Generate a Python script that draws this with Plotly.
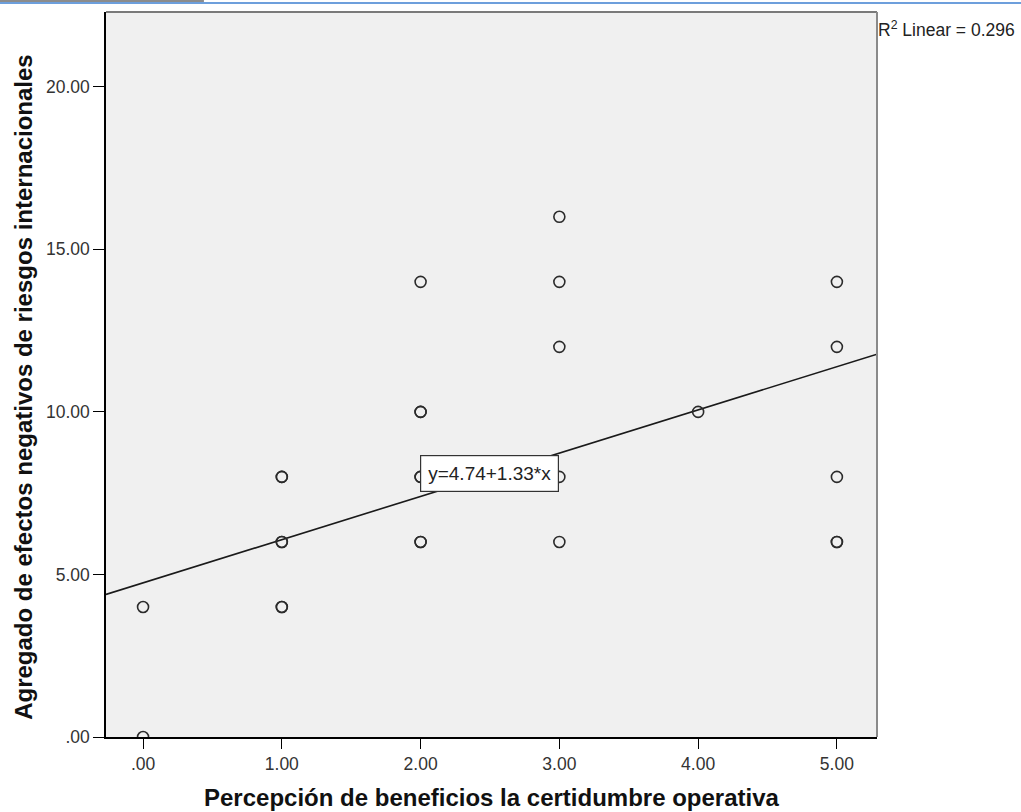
import plotly.graph_objs as go

# scatter data (duplicates drawn twice look bolder)
x_vals = [0, 0, 1, 1, 1, 1, 1, 1, 2, 2, 2, 2, 2, 2, 2, 3, 3, 3, 3, 3, 4, 5, 5, 5, 5, 5]
y_vals = [4, 0, 8, 8, 6, 6, 4, 4, 14, 10, 10, 8, 8, 6, 6, 16, 14, 12, 8, 6, 10, 14, 12, 8, 6, 6]

intercept = 4.74
slope = 1.33
r2 = 0.296

x_ticks = [0, 1, 2, 3, 4, 5]
x_ticklabels = ['.00', '1.00', '2.00', '3.00', '4.00', '5.00']
y_ticks = [0, 5, 10, 15, 20]
y_ticklabels = ['.00', '5.00', '10.00', '15.00', '20.00']

x_range = [-0.267, 5.289]
y_range = [0, 22.3]

font = 'Liberation Sans, Arial, sans-serif'

points = go.Scatter(
    x=x_vals, y=y_vals, mode='markers',
    marker=dict(symbol='circle-open', size=11, color='#2b2b2b',
                line=dict(width=1.6, color='#2b2b2b')),
    hoverinfo='x+y', showlegend=False)

fit = go.Scatter(
    x=x_range, y=[intercept + slope * v for v in x_range], mode='lines',
    line=dict(color='#1a1a1a', width=1.6),
    hoverinfo='skip', showlegend=False)

axis_style = dict(showgrid=False, zeroline=False, showline=True,
                  linecolor='black', linewidth=1.5,
                  ticks='outside', tickcolor='black',
                  tickfont=dict(size=17.5, color='#333333', family=font))

layout = go.Layout(
    width=1021, height=812,
    margin=dict(l=106, r=144, t=12, b=75),
    paper_bgcolor='white', plot_bgcolor='#f0f0f0',
    font=dict(family=font, color='#333333'),
    xaxis=dict(range=x_range, tickvals=x_ticks, ticktext=x_ticklabels,
               ticklen=10, **axis_style),
    yaxis=dict(range=y_range, tickvals=y_ticks, ticktext=y_ticklabels,
               ticklen=11, **axis_style),
    shapes=[
        # top and right frame in grey
        dict(type='line', xref='paper', yref='paper', x0=0, x1=1, y0=1, y1=1,
             line=dict(color='#7a7a7a', width=2)),
        dict(type='line', xref='paper', yref='paper', x0=1, x1=1, y0=0, y1=1,
             line=dict(color='#8a8a8a', width=2)),
        # window chrome at the top
        dict(type='line', xref='paper', yref='paper', x0=-0.139, x1=1.187,
             y0=1.0124, y1=1.0124, line=dict(color='#3c7fd0', width=1.5)),
        dict(type='line', xref='paper', yref='paper', x0=-0.139, x1=0.127,
             y0=1.0152, y1=1.0152, line=dict(color='#8c8c8c', width=2)),
    ],
    annotations=[
        dict(text='<b>Agregado de efectos negativos de riesgos internacionales</b>',
             xref='paper', yref='paper', x=0, y=0.483, xshift=-82,
             xanchor='center', yanchor='middle', textangle=-90, showarrow=False,
             font=dict(size=24, color='#111111', family=font)),
        dict(text='<b>Percepción de beneficios la certidumbre operativa</b>',
             xref='paper', yref='paper', x=0.5, y=0, yshift=-60,
             xanchor='center', yanchor='middle', showarrow=False,
             font=dict(size=24, color='#111111', family=font)),
        dict(text=f'R<sup>2</sup> Linear = {r2:.3f}',
             xref='paper', yref='paper', x=1, y=1, xanchor='left', xshift=-1,
             yanchor='middle', yshift=-17, showarrow=False,
             font=dict(size=17.5, color='#222222', family=font)),
        dict(text=f'y={intercept:.2f}+{slope:.2f}*x', x=2.50, y=8.1,
             showarrow=False, bgcolor='white', bordercolor='#333333',
             borderwidth=1.2, borderpad=7, font=dict(size=19, color='#222222', family=font)),
    ],
)

fig = go.Figure(data=[fit, points], layout=layout)
fig.write_html("out.html", config={'displayModeBar': False},
               post_script="document.body.style.margin='0';")
